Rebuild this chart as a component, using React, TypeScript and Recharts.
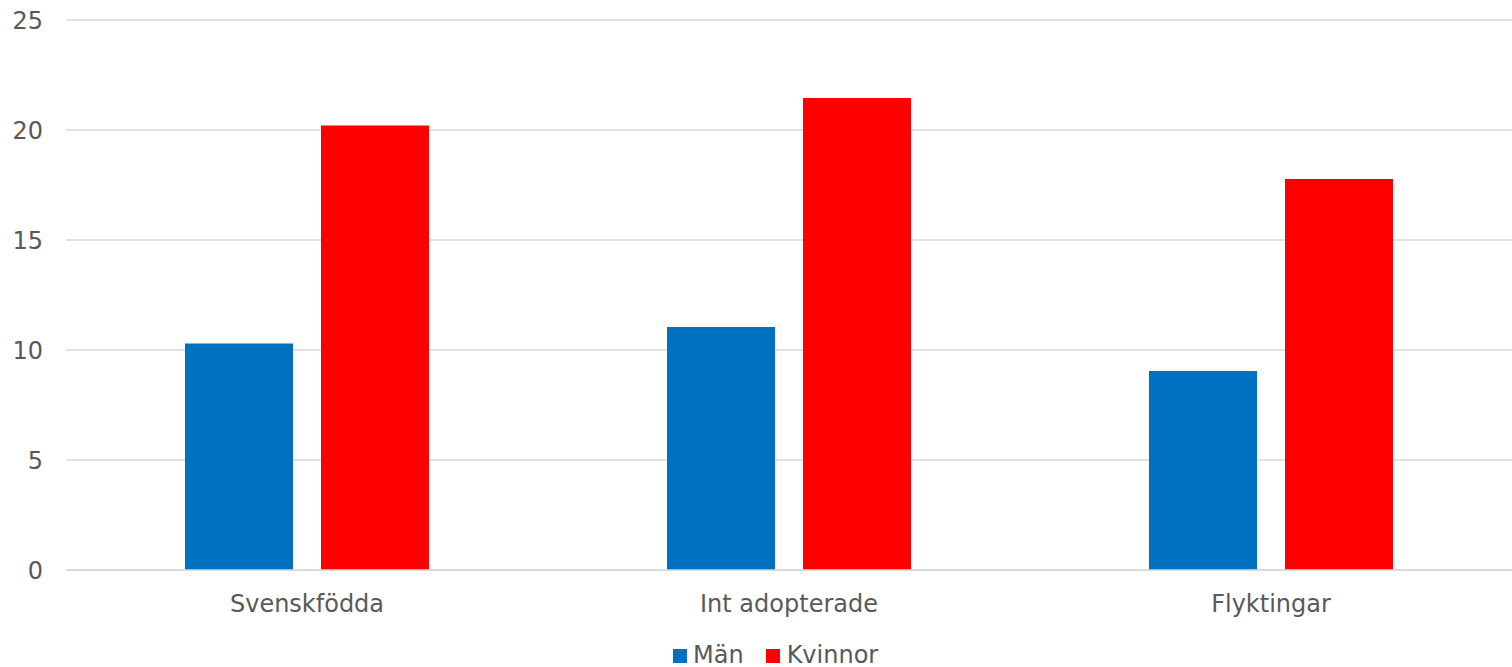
import { Bar, BarChart, CartesianGrid, Legend, XAxis, YAxis } from "recharts";

const categories = ["Svenskfödda", "Int adopterade", "Flyktingar"];
const man = [10.3, 11.05, 9.05];
const kvinnor = [20.2, 21.45, 17.77];
const yTicks = [0, 5, 10, 15, 20, 25];

const data = categories.map((name, i) => ({ name, man: man[i], kvinnor: kvinnor[i] }));

const FONT = "'DejaVu Sans', Verdana, sans-serif";
const TEXT = "#595959";

const LegendContent = () => (
  <div style={{ display: "flex", alignItems: "baseline", fontFamily: FONT, fontSize: 24, color: TEXT }}>
    <span style={{ display: "inline-block", width: 14, height: 14, background: "#0070C0", marginRight: 6 }} />
    <span style={{ marginRight: 22 }}>Män</span>
    <span style={{ display: "inline-block", width: 14, height: 14, background: "#FF0000", marginRight: 7 }} />
    <span>Kvinnor</span>
  </div>
);

const App = () => {
  return (
    <div style={{ position: "absolute", left: 0, top: 0, width: 1512, height: 667, background: "#fff" }}>
      <BarChart
        width={1512}
        height={667}
        data={data}
        margin={{ top: 20, right: 0, bottom: 67, left: 0 }}
        barSize={108}
        barGap={28}
      >
        <CartesianGrid vertical={false} stroke="#D9D9D9" strokeWidth={1.5} />
        <XAxis
          dataKey="name"
          axisLine={{ stroke: "#D9D9D9", strokeWidth: 1.5 }}
          tickLine={false}
          tickSize={0}
          tickMargin={25}
          tick={{ fill: TEXT, fontSize: 24, fontFamily: FONT }}
        />
        <YAxis
          width={66}
          domain={[0, 25]}
          ticks={yTicks}
          axisLine={false}
          tickLine={false}
          tickSize={0}
          tickMargin={23}
          tick={{ fill: TEXT, fontSize: 24, fontFamily: FONT }}
        />
        <Legend
          verticalAlign="middle"
          align="center"
          content={<LegendContent />}
          wrapperStyle={{ left: 673, top: 641, width: "auto" }}
        />
        <Bar dataKey="man" name="Män" fill="#0070C0" isAnimationActive={false} />
        <Bar dataKey="kvinnor" name="Kvinnor" fill="#FF0000" isAnimationActive={false} />
      </BarChart>
    </div>
  );
};

export default App;
